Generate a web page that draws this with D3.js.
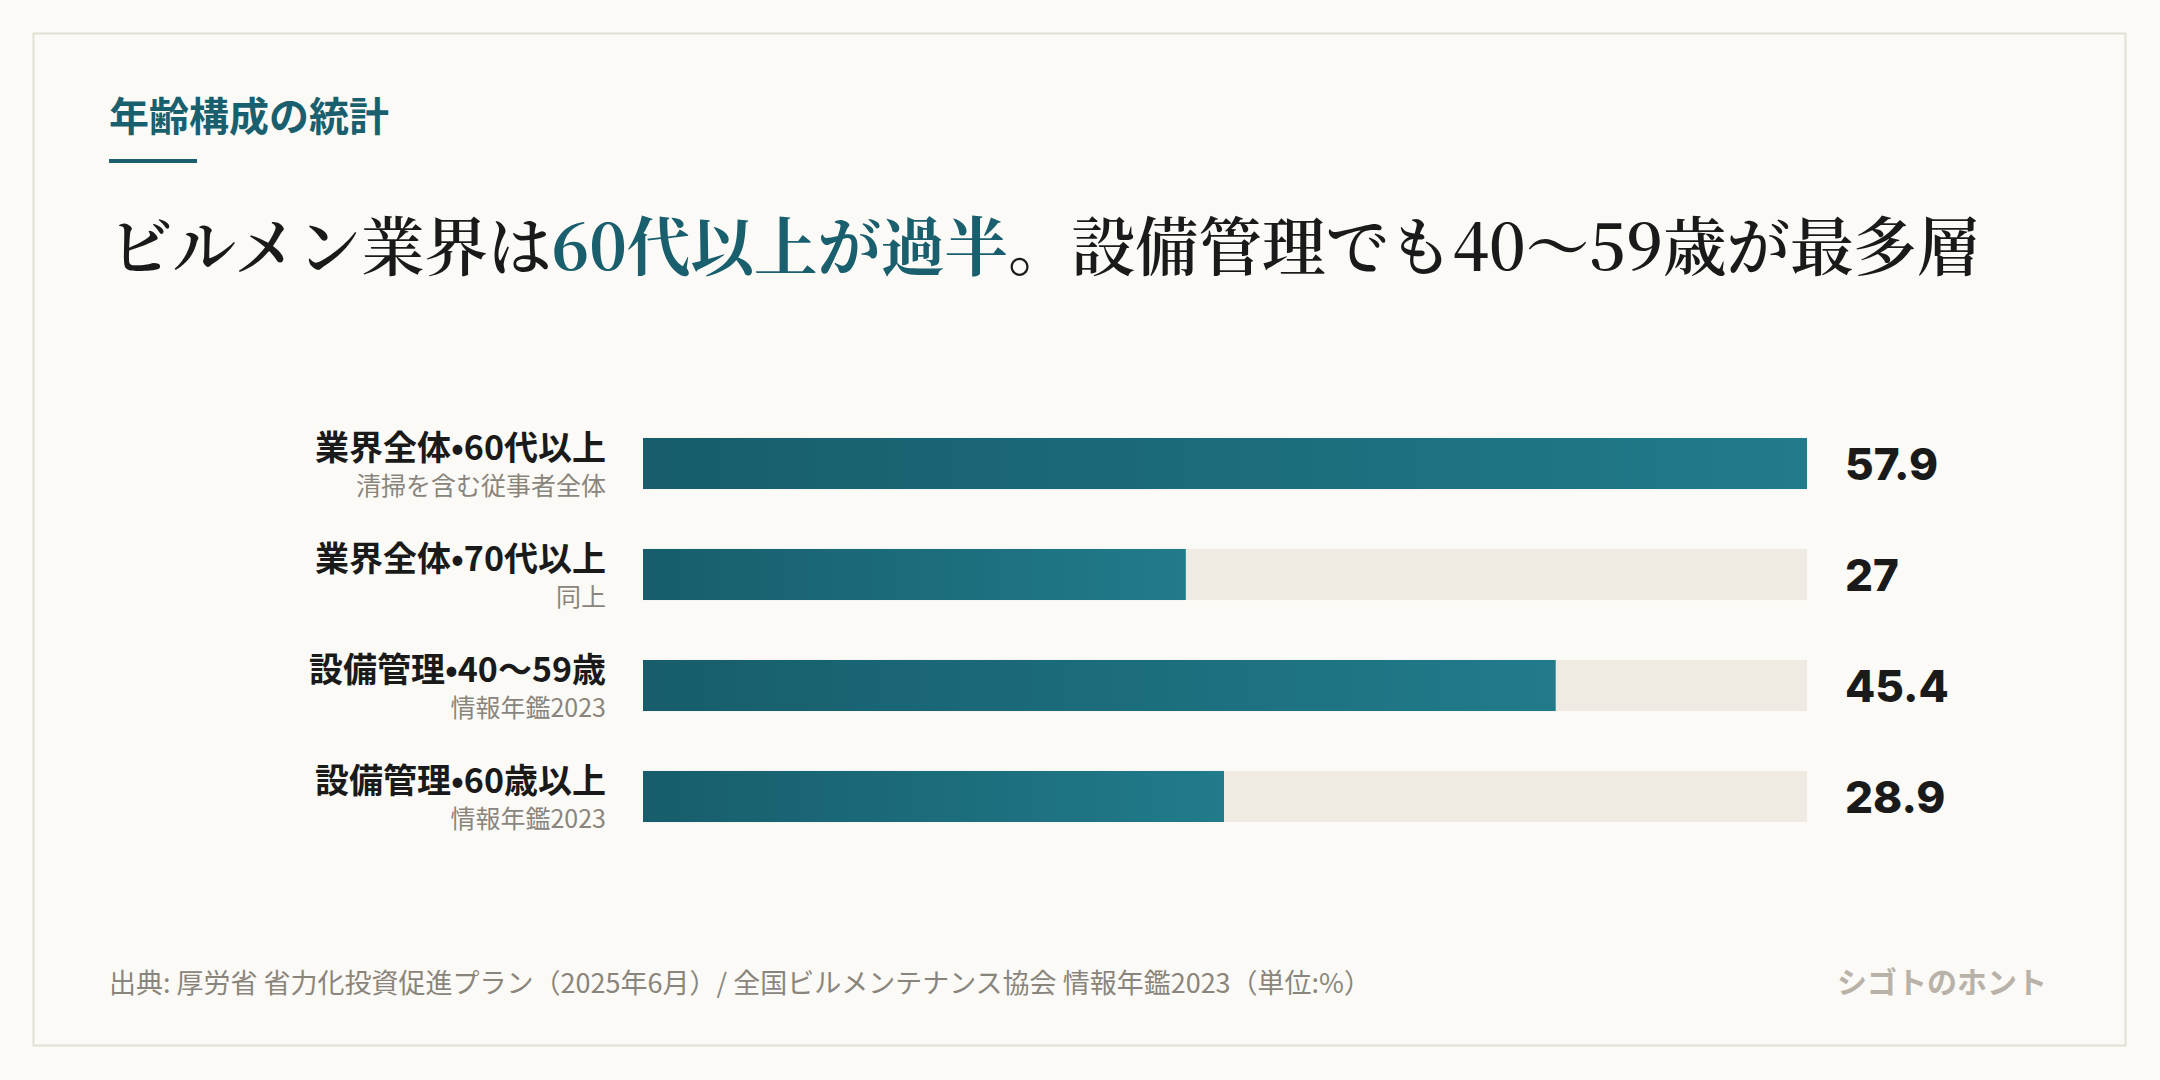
<!DOCTYPE html>
<html><head><meta charset="utf-8">
<script src="https://cdn.jsdelivr.net/npm/d3@7"></script>
<style>
body{margin:0;background:#fbfaf6;}
svg{display:block;}
</style></head>
<body><svg id="chart" width="2160" height="1080"></svg>
<script>
// data
var labels = ["業界全体•60代以上", "業界全体•70代以上", "設備管理•40〜59歳", "設備管理•60歳以上"];
var subLabels = ["清掃を含む従事者全体", "同上", "情報年鑑2023", "情報年鑑2023"];
var values = [57.9, 27, 45.4, 28.9];
var valueText = ["57.9", "27", "45.4", "28.9"];

var sans = "'Noto Sans CJK JP','Noto Sans',sans-serif";
var serif = "'Noto Serif CJK JP','DejaVu Serif',serif";
var svg = d3.select("#chart");

var defs = svg.append("defs");
var grad = defs.append("linearGradient").attr("id", "barGrad")
    .attr("x1", "0%").attr("x2", "100%");
grad.append("stop").attr("offset", "0%").attr("stop-color", "#175d6b");
grad.append("stop").attr("offset", "100%").attr("stop-color", "#217b8b");

// frame
svg.append("rect").attr("x", 33.5).attr("y", 33.5).attr("width", 2092).attr("height", 1012)
    .attr("fill", "#fbfaf6").attr("stroke", "#e4dfd3").attr("stroke-width", 2);

// header
svg.append("text").attr("x", 109).attr("y", 131).text("年齢構成の統計")
    .attr("font-family", sans).attr("font-weight", 700).attr("font-size", 40).attr("fill", "#1a5f6e");
svg.append("rect").attr("x", 109).attr("y", 159).attr("width", 88).attr("height", 4).attr("fill", "#1a5f6e");

var head = svg.append("text").attr("x", 109).attr("y", 270)
    .attr("font-family", serif).attr("font-weight", 600).attr("font-size", 63.5).attr("fill", "#1a1a1a");
head.append("tspan").text("ビルメン業界は");
head.append("tspan").text("60代以上が過半").attr("fill", "#1a5f6e").attr("font-weight", 700);
head.append("tspan").text("。設備管理でも40〜59歳が最多層");

// scales
var x = d3.scaleLinear().domain([0, d3.max(values)]).range([643, 1807]);
var y = d3.scaleBand().domain(labels).range([408, 852]).paddingInner(0.54).paddingOuter(0.27);

var rows = svg.selectAll("g.row").data(labels).enter().append("g").attr("class", "row");

rows.append("rect").attr("x", x(0)).attr("y", d => y(d))
    .attr("width", x(d3.max(values)) - x(0)).attr("height", y.bandwidth()).attr("fill", "#efebe2");
rows.append("rect").attr("x", x(0)).attr("y", d => y(d))
    .attr("width", (d, i) => x(values[i]) - x(0)).attr("height", y.bandwidth()).attr("fill", "url(#barGrad)");

rows.append("text").attr("x", 606).attr("y", d => y(d) + 22).attr("text-anchor", "end")
    .attr("font-family", sans).attr("font-weight", 700).attr("font-size", 34).attr("fill", "#1a1a1a")
    .text(d => d);
rows.append("text").attr("x", 606).attr("y", d => y(d) + 57).attr("text-anchor", "end")
    .attr("font-family", sans).attr("font-size", 25).attr("fill", "#8a857c")
    .text((d, i) => subLabels[i]);
rows.append("text").attr("x", 1845).attr("y", d => y(d) + y.bandwidth() / 2 + 16)
    .attr("font-family", "Inter,'Noto Sans',sans-serif").attr("font-weight", 800).attr("font-size", 44).attr("fill", "#1a1a1a")
    .text((d, i) => valueText[i]);

// footer
svg.append("text").attr("x", 109).attr("y", 993)
    .attr("font-family", sans).attr("font-size", 27).attr("fill", "#8a857c")
    .text("出典: 厚労省 省力化投資促進プラン（2025年6月）/ 全国ビルメンテナンス協会 情報年鑑2023（単位:%）");
svg.append("text").attr("x", 2047).attr("y", 993).attr("text-anchor", "end")
    .attr("font-family", sans).attr("font-weight", 700).attr("font-size", 30).attr("fill", "#b8b2a8")
    .text("シゴトのホント");
</script></body></html>
